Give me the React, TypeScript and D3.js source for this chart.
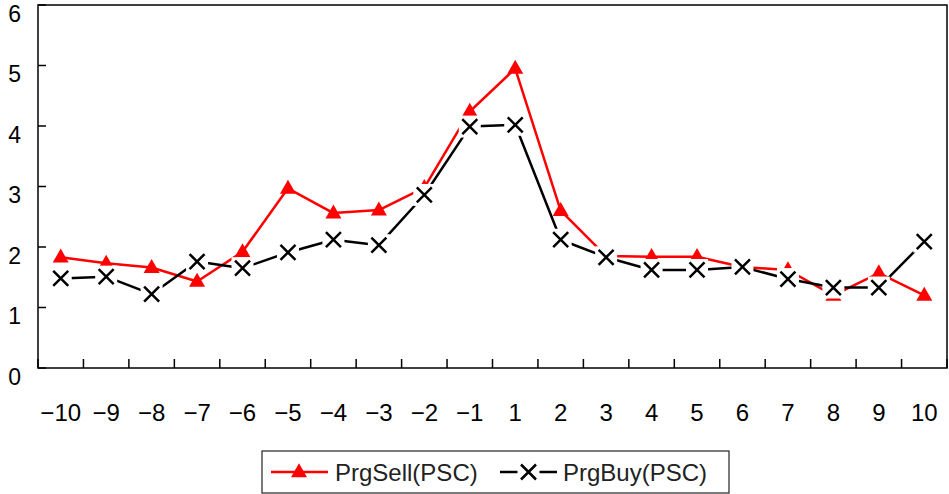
import React from "react";
import * as d3 from "d3";

const categories = ["\u221210","\u22129","\u22128","\u22127","\u22126","\u22125","\u22124","\u22123","\u22122","\u22121","1","2","3","4","5","6","7","8","9","10"];
const prgSell = [1.83,1.73,1.66,1.43,1.92,2.97,2.56,2.61,2.98,4.24,4.95,2.6,1.85,1.84,1.84,1.67,1.62,1.2,1.57,1.2];
const prgBuy = [1.48,1.51,1.22,1.76,1.65,1.91,2.12,2.03,2.86,3.99,4.02,2.12,1.83,1.62,1.62,1.67,1.47,1.33,1.33,2.09];
const yTicks = [0,1,2,3,4,5,6];
const seriesNames = ["PrgSell(PSC)", "PrgBuy(PSC)"];

const W = 949, H = 494;
const left = 38, right = 947, top = 5, bottom = 368;
const FONT = "'Liberation Sans', Arial, sans-serif";

export default function App() {
  const x = d3.scaleBand<string>().domain(categories).range([left, right]).padding(0);
  const y = d3.scaleLinear().domain([0, 6]).range([bottom, top]);
  const cx = (i: number) => (x(categories[i]) as number) + x.bandwidth() / 2;
  const line = d3.line<number>().x((_, i) => cx(i)).y((d) => y(d));

  const tri = (px: number, py: number, w = 16, h = 14) =>
    `M${px},${py - h * 0.62}L${px + w / 2},${py + h * 0.38}L${px - w / 2},${py + h * 0.38}Z`;
  const xMark = (px: number, py: number, s = 7.5) =>
    `M${px - s},${py - s}L${px + s},${py + s}M${px - s},${py + s}L${px + s},${py - s}`;

  const boundaries = d3.range(categories.length + 1).map((i) => left + i * x.bandwidth());

  return (
    <svg width={W} height={H} style={{ position: "absolute", left: 0, top: 0, background: "#fff" }}>
      <rect x={0} y={0} width={W} height={H} fill="#fff" />
      {/* frame */}
      <rect x={left} y={top} width={right - left} height={bottom - top} fill="none" stroke="#000" strokeWidth={1.5} />
      {/* y ticks */}
      {yTicks.map((t) => (
        <g key={"y" + t}>
          <line x1={left} x2={left + 8} y1={y(t)} y2={y(t)} stroke="#000" strokeWidth={1.5} />
          <text x={21} y={y(t) + 16.5} textAnchor="end" fontFamily={FONT} fontSize={23} fill="#000">{t}</text>
        </g>
      ))}
      {/* x ticks */}
      {boundaries.map((b, i) => (
        <line key={"xt" + i} x1={b} x2={b} y1={bottom} y2={bottom - 9} stroke="#000" strokeWidth={1.5} />
      ))}
      {categories.map((c, i) => (
        <text key={"xl" + i} x={cx(i)} y={421} textAnchor="middle" fontFamily={FONT} fontSize={24} fill="#000">{c}</text>
      ))}
      {/* sell series */}
      <path d={line(prgSell) || ""} fill="none" stroke="#ff0000" strokeWidth={2.5} strokeLinejoin="round" />
      {prgSell.map((v, i) => (
        <path key={"s" + i} d={tri(cx(i), y(v))} fill="#ff0000" />
      ))}
      {/* buy series */}
      <path d={line(prgBuy) || ""} fill="none" stroke="#000" strokeWidth={2.5} strokeLinejoin="round" />
      {prgBuy.map((v, i) => (
        <g key={"b" + i}>
          <rect x={cx(i) - 11} y={y(v) - 11} width={22} height={22} fill="#fff" />
          <path d={xMark(cx(i), y(v))} stroke="#000" strokeWidth={2.5} fill="none" />
        </g>
      ))}
      {/* legend */}
      <rect x={262} y={451} width={467} height={42} fill="#fff" stroke="#222" strokeWidth={1.2} />
      <line x1={271} x2={328} y1={472} y2={472} stroke="#ff0000" strokeWidth={2.5} />
      <path d={tri(299, 472)} fill="#ff0000" />
      <text x={335} y={481} fontFamily={FONT} fontSize={24} fill="#222">{seriesNames[0]}</text>
      <line x1={500} x2={557} y1={472} y2={472} stroke="#000" strokeWidth={2.5} />
      <rect x={528.5 - 11} y={472 - 11} width={22} height={22} fill="#fff" />
      <path d={xMark(528.5, 472)} stroke="#000" strokeWidth={2.5} fill="none" />
      <text x={563} y={481} fontFamily={FONT} fontSize={24} fill="#222">{seriesNames[1]}</text>
    </svg>
  );
}
